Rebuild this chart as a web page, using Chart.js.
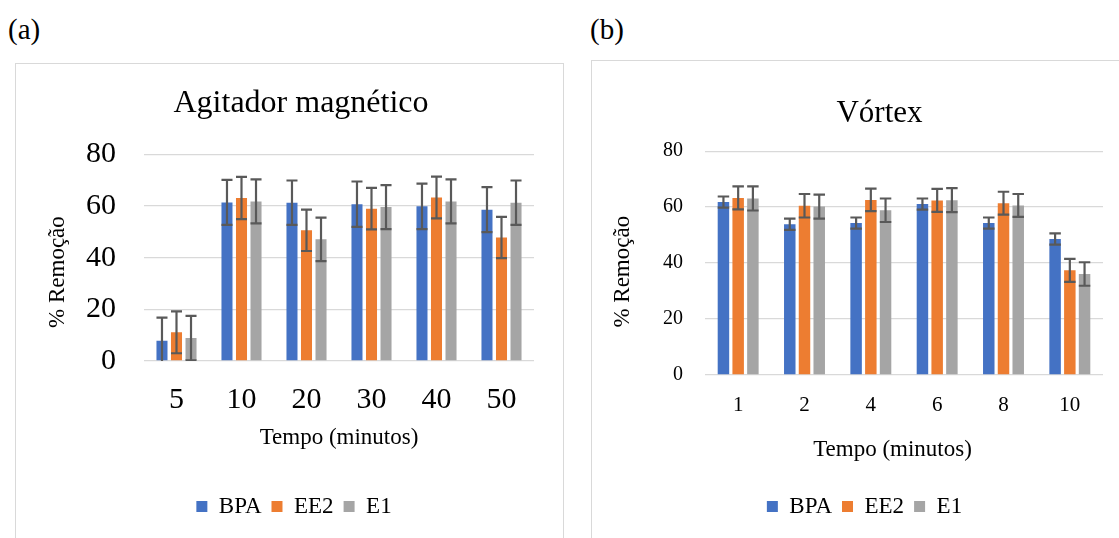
<!DOCTYPE html>
<html><head><meta charset="utf-8">
<script src="https://cdn.jsdelivr.net/npm/chart.js@4"></script>
<style>
body{margin:0;background:#fff;width:1119px;height:538px;overflow:hidden;position:relative;font-family:'Liberation Serif',serif;}
.lbl{position:absolute;font-size:29px;line-height:32px;color:#000;}
.box{position:absolute;border:1px solid #d9d9d9;}
canvas{position:absolute;}
</style></head><body>
<div class="lbl" style="left:8px;top:13px">(a)</div>
<div class="lbl" style="left:590px;top:13px">(b)</div>
<div class="box" style="left:15px;top:63px;width:547px;height:520px"></div>
<div class="box" style="left:591px;top:60px;width:560px;height:520px"></div>
<canvas id="ca" width="518" height="474" style="left:16px;top:64px"></canvas>
<canvas id="cb" width="511" height="477" style="left:592px;top:61px"></canvas>
<script>
// ---- Panel (a): Agitador magnético ----
const catsA = ['5', '10', '20', '30', '40', '50'];
const bpaA = [7.8, 61.4, 61.3, 60.7, 59.9, 58.6];
const bpaErrA = [9.0, 8.7, 8.6, 8.8, 8.8, 8.7];
const ee2A = [11.1, 63.1, 50.6, 59.0, 63.3, 47.8];
const ee2ErrA = [8.1, 8.2, 8.0, 8.0, 8.1, 8.0];
const e1A = [8.9, 61.8, 47.1, 59.6, 61.8, 61.3];
const e1ErrA = [8.6, 8.5, 8.4, 8.5, 8.5, 8.6];

// ---- Panel (b): Vórtex ----
const catsB = ['1', '2', '4', '6', '8', '10'];
const bpaB = [61.8, 53.9, 54.3, 61.1, 54.3, 48.6];
const bpaErrB = [2.0, 2.0, 2.0, 2.0, 2.0, 2.0];
const ee2B = [63.3, 60.5, 62.6, 62.4, 61.4, 37.4];
const ee2ErrB = [4.1, 4.2, 4.0, 4.1, 4.1, 4.1];
const e1B = [63.1, 60.2, 58.9, 62.5, 60.6, 36.1];
const e1ErrB = [4.3, 4.3, 4.2, 4.3, 4.1, 4.2];

const yTicks = [0, 20, 40, 60, 80];
const seriesNames = ['BPA', 'EE2', 'E1'];
const seriesColors = ['#4472C4', '#ED7D31', '#A5A5A5'];

Chart.defaults.font.family = "'Liberation Serif', 'Times New Roman', serif";
Chart.defaults.color = '#000';

const errorBars = {
  id: 'errorBars',
  afterDatasetsDraw(chart, args, opts) {
    const ctx = chart.ctx, y = chart.scales.y, a = chart.chartArea;
    ctx.save();
    ctx.beginPath();
    ctx.rect(a.left, a.top - 20, a.right - a.left, a.bottom - a.top + 20);
    ctx.clip();
    ctx.strokeStyle = opts.color;
    ctx.lineWidth = opts.width;
    chart.data.datasets.forEach((ds, i) => {
      const meta = chart.getDatasetMeta(i);
      meta.data.forEach((bar, j) => {
        const v = ds.data[j], e = ds.errors[j];
        const yt = y.getPixelForValue(v + e), yb = y.getPixelForValue(v - e);
        const h = bar.width / 2;
        ctx.beginPath();
        ctx.moveTo(bar.x, yt); ctx.lineTo(bar.x, yb);
        ctx.moveTo(bar.x - h, yt); ctx.lineTo(bar.x + h, yt);
        ctx.moveTo(bar.x - h, yb); ctx.lineTo(bar.x + h, yb);
        ctx.stroke();
      });
    });
    ctx.restore();
  }
};

const shiftBoxes = {
  id: 'shiftBoxes',
  afterLayout(chart, args, opts) {
    if (chart.titleBlock) { chart.titleBlock.left += opts.title; chart.titleBlock.right += opts.title; }
    if (chart.legend) { chart.legend.left += opts.legend; chart.legend.right += opts.legend; }
  }
};

function build(id, o) {
  const data = [o.bpa, o.ee2, o.e1], errs = [o.bpaErr, o.ee2Err, o.e1Err];
  return new Chart(document.getElementById(id), {
    type: 'bar',
    data: {
      labels: o.cats,
      datasets: seriesNames.map((n, i) => ({
        label: n, data: data[i], errors: errs[i], backgroundColor: seriesColors[i], borderWidth: 0
      }))
    },
    options: {
      responsive: false, animation: false, events: [],
      layout: { padding: { top: 0, left: 0, right: 0, bottom: 10 } },
      datasets: { bar: { categoryPercentage: o.cp, barPercentage: o.bp } },
      plugins: {
        title: { display: true, text: o.title, font: { size: o.tfs, weight: 'normal' }, color: '#000',
                 padding: { top: o.tpt, bottom: o.tpb } },
        legend: { position: 'bottom', labels: { boxWidth: 11, boxHeight: 11, padding: 10, font: { size: 23 }, color: '#000' } },
        tooltip: { enabled: false },
        errorBars: { color: '#595959', width: 2.2 },
        shiftBoxes: { title: o.tdx, legend: o.ldx }
      },
      scales: {
        x: {
          grid: { display: false }, border: { display: false },
          ticks: { font: { size: o.xfs }, color: '#000', padding: o.xtp },
          title: { display: true, text: 'Tempo (minutos)' + '\u00a0'.repeat(o.xsp), font: { size: 23 }, color: '#000',
                   padding: { top: 0, bottom: o.xttp } },
          afterFit(s) { s.height = o.xh; }
        },
        y: {
          min: 0, max: 80,
          afterBuildTicks(s) { s.ticks = yTicks.map(v => ({ value: v })); },
          ticks: { font: { size: o.yfs }, color: '#000', padding: o.ytp },
          grid: { color: '#d9d9d9', drawTicks: false, lineWidth: 1.3 },
          border: { display: false },
          title: { display: true, text: '% Remoção' + '\u00a0'.repeat(o.ysp), font: { size: 23 }, color: '#000',
                   padding: { top: o.yttp, bottom: 0 } },
          afterFit(s) { s.width = o.yw; }
        }
      }
    },
    plugins: [errorBars, shiftBoxes]
  });
}

build('ca', {
  cats: catsA, bpa: bpaA, bpaErr: bpaErrA, ee2: ee2A, ee2Err: ee2ErrA, e1: e1A, e1Err: e1ErrA,
  title: 'Agitador magnético', tfs: 32, tpt: 20, tpb: 32, tdx: 26, ldx: 19,
  cp: 0.67, bp: 0.76, xfs: 30, xtp: 13, xttp: 33, xh: 124, xsp: 0,
  yfs: 30, ytp: 28, yttp: 28, ysp: 5, yw: 128
});
build('cb', {
  cats: catsB, bpa: bpaB, bpaErr: bpaErrB, ee2: ee2B, ee2Err: ee2ErrB, e1: e1B, e1Err: e1ErrB,
  title: 'Vórtex', tfs: 31, tpt: 34, tpb: 19, tdx: 32, ldx: 17,
  cp: 0.666, bp: 0.78, xfs: 21, xtp: 10, xttp: 21, xh: 110, xsp: 4,
  yfs: 20, ytp: 22, yttp: 17, ysp: 3, yw: 113
});
</script>
</body></html>
